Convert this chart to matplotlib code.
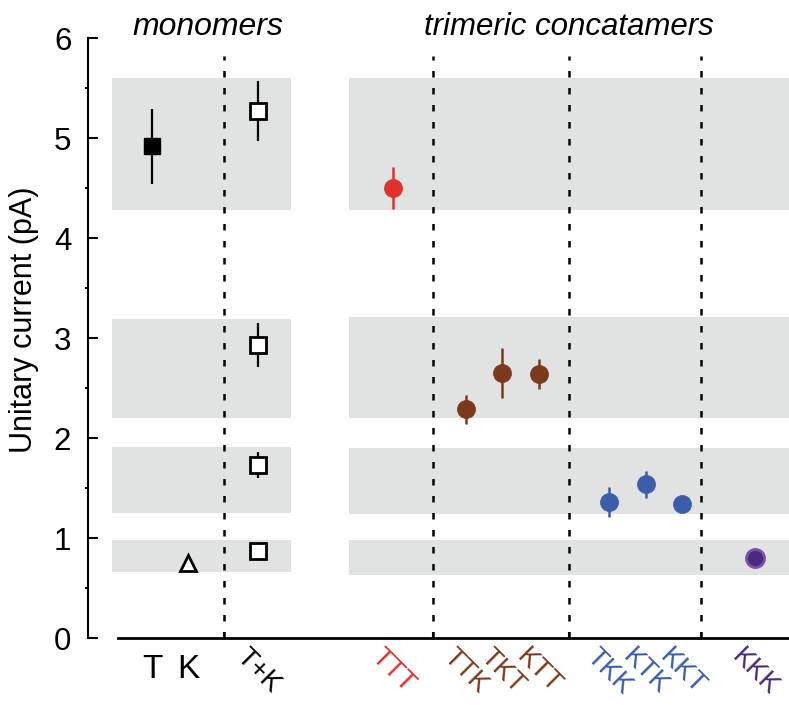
import matplotlib.pyplot as plt

plt.rcParams['font.family'] = ['Liberation Sans', 'DejaVu Sans']

# monomers: T alone, K alone, and the T+K mixture (four levels)
mono_x = [0.0, 1.0]
mono_val = [4.92, 0.75]
mono_err = [0.375, 0.0]
mix_x = 2.92
mix_val = [5.27, 2.93, 1.73, 0.87]
mix_err = [0.30, 0.22, 0.13, 0.0]

# trimeric concatamers
conc_labels = ['TTT', 'TTK', 'TKT', 'KTT', 'TKK', 'KTK', 'KKT', 'KKK']
conc_x = [6.65, 8.65, 9.65, 10.65, 12.6, 13.6, 14.6, 16.6]
conc_val = [4.50, 2.29, 2.65, 2.64, 1.36, 1.54, 1.34, 0.80]
conc_err = [0.21, 0.145, 0.25, 0.15, 0.15, 0.135, 0.05, 0.0]
conc_col = ['#e0312a'] + ['#7b3a1c'] * 3 + ['#3b5daa'] * 3 + ['#4b2a7b']
conc_edge = ['#e0312a'] + ['#7b3a1c'] * 3 + ['#3b5daa'] * 3 + ['#7a50aa']

# grey conductance bands
bands_left = [(4.28, 5.60), (2.20, 3.19), (1.25, 1.91), (0.66, 0.98)]
bands_right = [(4.28, 5.60), (2.20, 3.21), (1.24, 1.90), (0.63, 0.98)]
dividers = [1.98, 7.74, 11.49, 15.12]

xmin, xmax = -1.763, 17.55

fig = plt.figure(figsize=(7.89, 7.05), dpi=100)
ax = fig.add_axes([0.1115, 0.095, 0.8885, 0.851])
ax.set_xlim(xmin, xmax)
ax.set_ylim(0, 6)

for lo, hi in bands_left:
    ax.fill_between([-1.1, 3.83], lo, hi, color='#e1e2e2', lw=0, zorder=0)
for lo, hi in bands_right:
    ax.fill_between([5.43, xmax], lo, hi, color='#e1e2e2', lw=0, zorder=0)

for d in dividers:
    ax.plot([d, d], [0, 5.82], color='black', lw=1.8, dashes=(2.6, 4.2),
            zorder=1, clip_on=False)

# monomers
ax.errorbar(mono_x[0], mono_val[0], yerr=mono_err[0], fmt='s', color='black',
            ms=11, elinewidth=1.6, zorder=3)
ax.plot(mono_x[1], mono_val[1], '^', ms=11, mfc='white', mec='black',
        mew=2, zorder=3)
ax.errorbar([mix_x] * len(mix_val), mix_val, yerr=mix_err, fmt='s',
            mfc='white', mec='black', mew=2, ms=11, ecolor='black',
            elinewidth=1.6, zorder=3)

# concatamers
for x, v, e, c, ec in zip(conc_x, conc_val, conc_err, conc_col, conc_edge):
    ax.errorbar(x, v, yerr=e, fmt='o', color=c, mfc=c, mec=ec,
                mew=2 if ec != c else 0.5, ms=13, elinewidth=1.8, zorder=3)

# group titles
ax.text(1.54, 6.11, 'monomers', style='italic', fontsize=23,
        ha='center', va='center', clip_on=False)
ax.text(11.49, 6.11, 'trimeric concatamers', style='italic', fontsize=22.5,
        ha='center', va='center', clip_on=False)

# axes styling
for s in ['top', 'right']:
    ax.spines[s].set_visible(False)
ax.spines['left'].set_linewidth(1.5)
ax.spines['bottom'].set_linewidth(2.0)
ax.spines['bottom'].set_bounds(-0.94, xmax)

ax.set_yticks(range(7))
ax.set_yticks([0.5 + i for i in range(6)], minor=True)
ax.tick_params(axis='y', which='major', direction='in', length=7, width=1.5,
               labelsize=22.5, pad=12)
ax.tick_params(axis='y', which='minor', direction='out', length=2, width=1.5)
ax.set_ylabel('Unitary current (pA)', fontsize=22)
ax.yaxis.set_label_coords(-0.07, 0.53)

ax.set_xticks(dividers)
ax.set_xticklabels([])
ax.tick_params(axis='x', which='major', direction='in', length=4, width=1.5)

tick_pos = mono_x + [mix_x] + conc_x
tick_lab = ['T', 'K', 'T+K'] + conc_labels
tick_col = ['black'] * 3 + conc_col
ax.set_xticks(tick_pos, tick_lab, minor=True)
ax.tick_params(axis='x', which='minor', length=0, labelsize=19.5, pad=4)
for lab, c in zip(ax.get_xticklabels(minor=True), tick_col):
    lab.set_color(c)
    if lab.get_text() in ('T', 'K'):
        lab.set_fontsize(24)
        lab.set_y(-0.018)
    else:
        lab.set_rotation(-45)
        lab.set_ha('center')

fig.savefig('out.png', dpi=100)
